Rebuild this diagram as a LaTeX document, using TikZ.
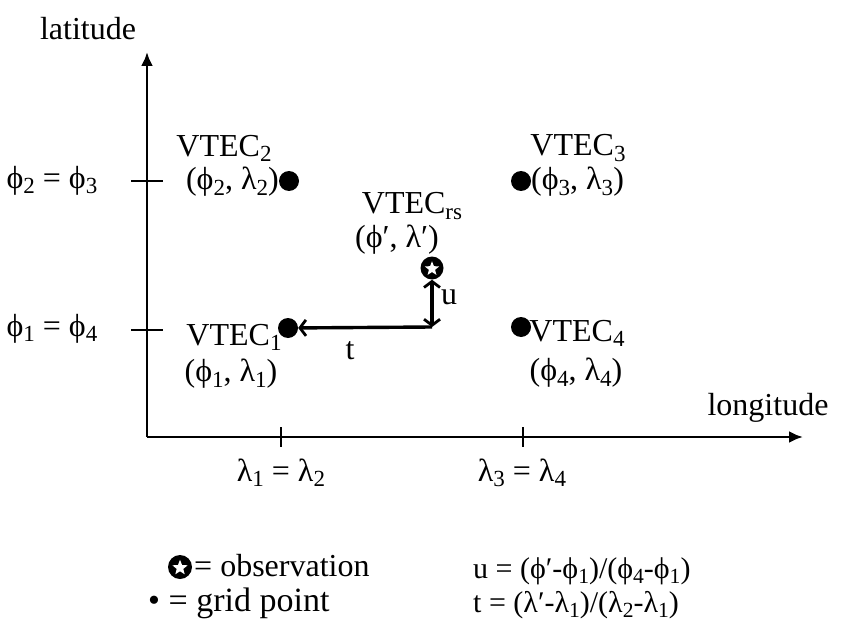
\documentclass[tikz,border=0pt]{standalone}
\usepackage{fontspec}
\setmainfont{Liberation Serif}
\usetikzlibrary{arrows.meta,shapes.geometric}
\newcommand\sbs[1]{\raisebox{-0.35ex}{\scalebox{0.72}{#1}}}
\newcommand\fii{ϕ}
\newcommand\lam{λ}
\begin{document}
\begin{tikzpicture}[x=1pt,y=-1pt,
  lbl/.style={inner sep=0pt,font=\fontsize{32}{37}\selectfont},
  frm/.style={inner sep=0pt,font=\fontsize{30}{35}\selectfont},
  axis/.style={line width=2.8pt,-{Latex[length=14pt,width=12pt]}},
  tick/.style={line width=2.4pt},
  meas/.style={line width=3.4pt},
  measboth/.style={meas,{Straight Barb[length=6pt,width=16pt,line width=2.8pt]}-{Straight Barb[length=6pt,width=16pt,line width=2.8pt]}},
  measone/.style={meas,-{Straight Barb[length=6pt,width=16pt,line width=2.8pt]}},
  grid/.style={circle,fill=black,minimum size=20pt,inner sep=0pt},
  obs/.style={circle,fill=black,minimum size=23pt,inner sep=0pt},
  whitestar/.style={star,star points=5,star point ratio=2.3,fill=white,minimum size=15pt,inner sep=0pt}]
\useasboundingbox (0,0) rectangle (848,631);
% axes
\coordinate (O) at (147,437);
\coordinate (ytip) at (147,52);
\coordinate (xtip) at (803,437);
\draw[axis] (O) -- (ytip);
\draw[axis] (O) -- (xtip);
\node[lbl] (lat) at (88,29) {latitude};
\node[lbl] (lon) at (768,408) {longitude};
% ticks
\coordinate (ty2a) at (131,181); \coordinate (ty2b) at (163,181);
\coordinate (ty1a) at (131,330); \coordinate (ty1b) at (163,330);
\coordinate (tx1a) at (281,427); \coordinate (tx1b) at (281,447);
\coordinate (tx3a) at (523,427); \coordinate (tx3b) at (523,447);
\draw[tick] (ty2a) -- (ty2b);
\draw[tick] (ty1a) -- (ty1b);
\draw[tick] (tx1a) -- (tx1b);
\draw[tick] (tx3a) -- (tx3b);
\node[lbl] (p23) at (52,181) {\fii\sbs{2} = \fii\sbs{3}};
\node[lbl] (p14) at (52,329) {\fii\sbs{1} = \fii\sbs{4}};
\node[lbl] (l12) at (281,473) {\lam\sbs{1} = \lam\sbs{2}};
\node[lbl] (l34) at (522,473) {\lam\sbs{3} = \lam\sbs{4}};
% grid points
\node[grid] (g2) at (289,181) {};
\node[grid] (g3) at (521,181) {};
\node[grid] (g1) at (288,328) {};
\node[grid] (g4) at (521,327) {};
\node[lbl] (v2) at (224,148) {VTEC\sbs{2}};
\node[lbl,anchor=east] (c2) at (279,182) {(\fii\sbs{2}, \lam\sbs{2})};
\node[lbl] (v3) at (578,148) {VTEC\sbs{3}};
\node[lbl,anchor=west] (c3) at (531,182) {(\fii\sbs{3}, \lam\sbs{3})};
\node[lbl] (v1) at (234,337) {VTEC\sbs{1}};
\node[lbl] (c1) at (231,374) {(\fii\sbs{1}, \lam\sbs{1})};
\node[lbl] (v4) at (577,333) {VTEC\sbs{4}};
\node[lbl] (c4) at (576,373) {(\fii\sbs{4}, \lam\sbs{4})};
% observation
\node[obs] (obs) at (432,268) {};
\node[whitestar] (obsstar) at (432,268.8) {};
\node[lbl] (vrs) at (412,206) {VTEC\sbs{rs}};
\node[lbl] (crs) at (397,240) {(\fii′, \lam′)};
\coordinate (corner) at (432,327);
\draw[measboth] (corner) -- (obs);
\draw[measone] (corner) -- (g1);
\node[lbl] (u) at (449,297) {u};
\node[lbl] (t) at (350,351) {t};
% legend
\node[obs,minimum size=24pt] (lobs) at (180,567) {};
\node[whitestar,minimum size=16pt] (lstar) at (180,567.8) {};
\node[lbl,anchor=west] (lobst) at (194,566) {= observation};
\node[lbl,anchor=west,font=\fontsize{34}{39}\selectfont] (lgrid) at (148,603) {• = grid point};
\node[frm,anchor=west] (fu) at (473,571) {u = (\fii′-\fii\sbs{1})/(\fii\sbs{4}-\fii\sbs{1})};
\node[frm,anchor=west] (ft) at (473,605) {t = (\lam′-\lam\sbs{1})/(\lam\sbs{2}-\lam\sbs{1})};
\end{tikzpicture}
\end{document}
